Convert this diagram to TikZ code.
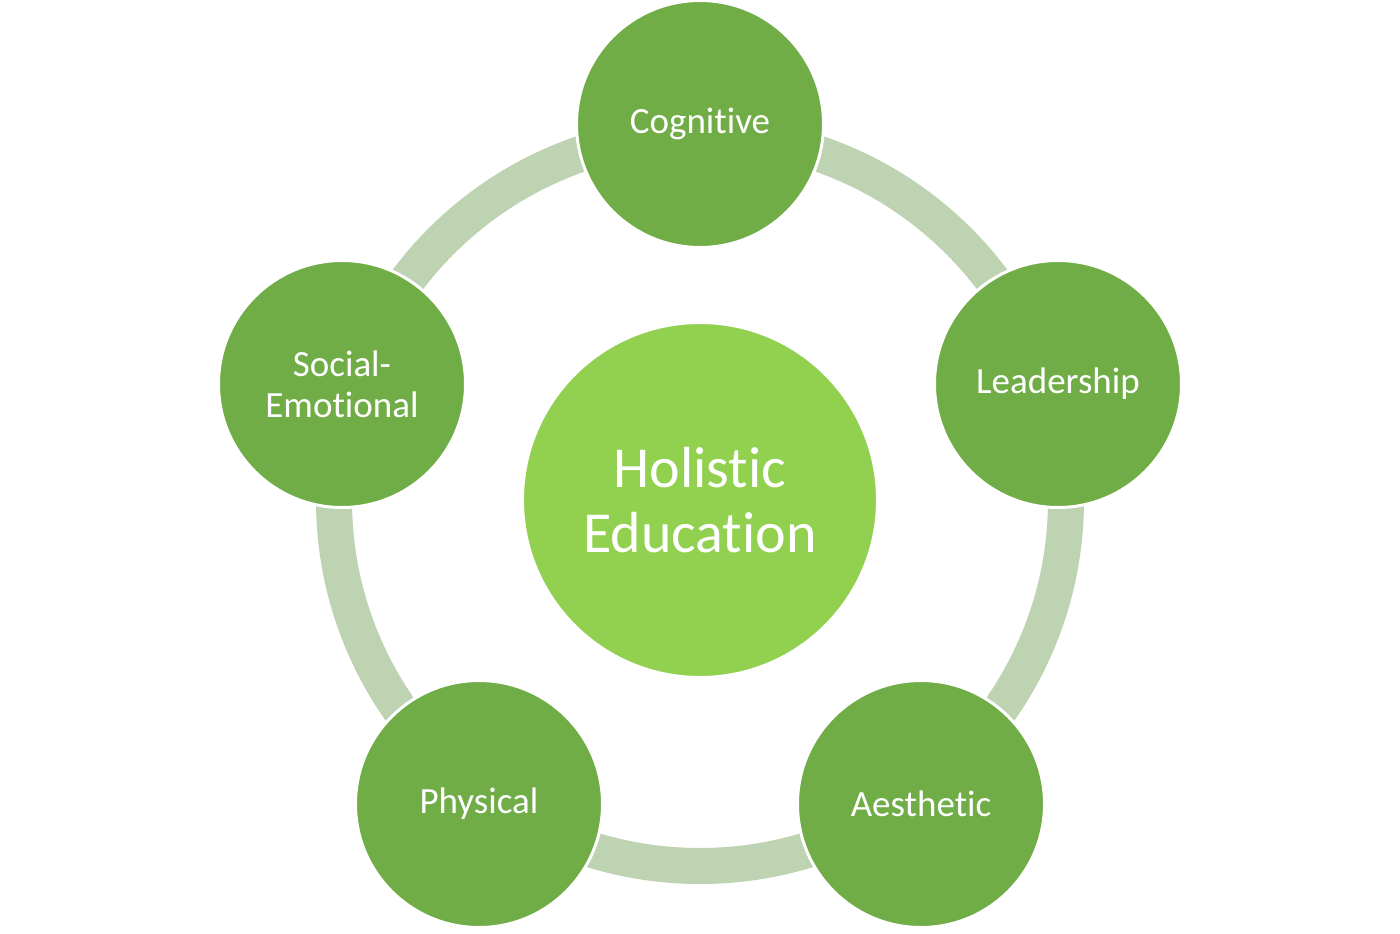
\documentclass[tikz,border=0pt]{standalone}
\usepackage{fontspec}
\setmainfont{Carlito}[Ligatures=NoCommon]
\usetikzlibrary{positioning}
\definecolor{hubgreen}{RGB}{146,208,80}
\definecolor{petalgreen}{RGB}{112,173,71}
\definecolor{ringgreen}{RGB}{189,211,178}
\tikzset{
  petal/.style={circle, fill=petalgreen, draw=white, line width=3pt, minimum size=247pt, inner sep=0pt, text=white, align=center, font=\fontsize{37}{41}\selectfont},
  hub/.style={circle, fill=hubgreen, draw=white, line width=3pt, minimum size=355pt, inner sep=0pt, text=white, align=center, font=\fontsize{58}{65}\selectfont},
  ring/.style={draw=ringgreen, line width=36pt}
}
\begin{document}
\begin{tikzpicture}[x=1pt, y=-1pt]
  \useasboundingbox[fill=white] (0,0) rectangle (1400,934);
  % band behind the circles
  \draw[ring] (700,500) circle[radius=366];
  % centre
  \node[hub] (holistic) at (700,500) {Holistic\\Education};
  % outer circles
  \node[petal] (cognitive) at (700,124) {Cognitive};
  \node[petal] (leadership) at (1058,384) {Leadership};
  \node[petal] (aesthetic) at (921,804) {Aesthetic};
  \node[petal] (physical) at (479,804) {Physical};
  \node[petal] (social) at (342,384) {Social-\\Emotional};
\end{tikzpicture}
\end{document}
